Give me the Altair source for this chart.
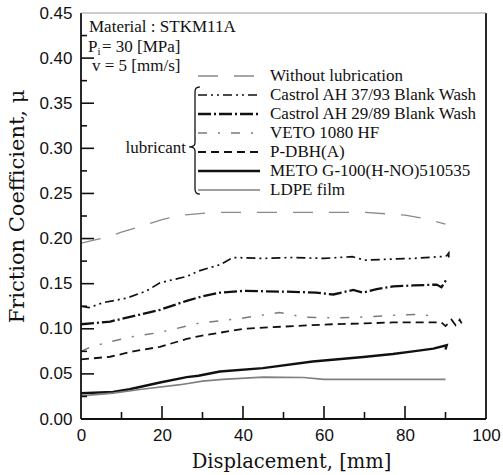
import altair as alt
import pandas as pd

# ---------------- data ----------------
series_names = [
    "Without lubrication",
    "Castrol AH 37/93 Blank Wash",
    "Castrol AH 29/89 Blank Wash",
    "VETO 1080 HF",
    "P-DBH(A)",
    "METO G-100(H-NO)510535",
    "LDPE film",
]

without_x = [0, 5, 10, 15, 20, 25, 30, 35, 40, 50, 60, 70, 80, 85, 90]
without_y = [0.195, 0.200, 0.207, 0.214, 0.221, 0.226, 0.228, 0.229, 0.229, 0.229, 0.229, 0.229, 0.226, 0.222, 0.216]

castrol37_x = [0, 2, 5.5, 11.3, 16.2, 19.5, 26.1, 29, 34.3, 37.6, 45, 52, 60, 67, 70, 75, 82, 89, 90.3, 90.8, 90.8]
castrol37_y = [0.125, 0.1235, 0.129, 0.134, 0.142, 0.151, 0.158, 0.164, 0.171, 0.179, 0.178, 0.179, 0.178, 0.180, 0.176, 0.177, 0.178, 0.180, 0.181, 0.184, 0.176]

castrol29_x = [0, 7.2, 12.9, 19.5, 26.1, 30, 34.3, 40.1, 52.4, 58, 62.3, 67.2, 69.7, 73, 77.1, 82, 87.8, 89, 90.3]
castrol29_y = [0.105, 0.108, 0.114, 0.121, 0.131, 0.136, 0.140, 0.142, 0.141, 0.140, 0.138, 0.143, 0.140, 0.144, 0.147, 0.148, 0.149, 0.146, 0.155]

veto_x = [0, 2.5, 7.5, 12.3, 19.5, 26.1, 29, 40.1, 49, 55, 62, 70, 77, 84, 88]
veto_y = [0.075, 0.080, 0.086, 0.091, 0.096, 0.103, 0.106, 0.112, 0.118, 0.113, 0.112, 0.113, 0.115, 0.116, 0.113]

pdbh_x = [0, 7.2, 12.9, 19.5, 26.1, 29, 40.1, 52.4, 62, 70, 77, 84, 89, 90, 91.5, 92.5, 93.5, 94]
pdbh_y = [0.066, 0.069, 0.075, 0.080, 0.0887, 0.0917, 0.100, 0.103, 0.105, 0.106, 0.107, 0.107, 0.107, 0.103, 0.110, 0.104, 0.110, 0.106]

meto_x = [0, 7.9, 12, 19.5, 26.1, 29, 34.3, 44.9, 57.2, 69.7, 77, 82, 87, 90.3, 90]
meto_y = [0.0286, 0.030, 0.033, 0.0405, 0.0464, 0.048, 0.0527, 0.0564, 0.0638, 0.0687, 0.072, 0.075, 0.078, 0.0817, 0.077]

ldpe_x = [0, 7.9, 15, 24.5, 30, 35, 45, 55, 60, 70, 80, 90]
ldpe_y = [0.0256, 0.0286, 0.033, 0.038, 0.042, 0.044, 0.0464, 0.046, 0.044, 0.044, 0.044, 0.044]

x_tick_labels = [0, 20, 40, 60, 80, 100]
x_minor = [10, 30, 50, 70, 90]
x_major_inner = [20, 40, 60, 80]
y_tick_labels = [0.0, 0.05, 0.10, 0.15, 0.20, 0.25, 0.30, 0.35, 0.40, 0.45]
y_minor = [0.025, 0.075, 0.125, 0.175, 0.225, 0.275, 0.325, 0.375, 0.425]

all_x = [without_x, castrol37_x, castrol29_x, veto_x, pdbh_x, meto_x, ldpe_x]
all_y = [without_y, castrol37_y, castrol29_y, veto_y, pdbh_y, meto_y, ldpe_y]

rows = []
for name, xs, ys in zip(series_names, all_x, all_y):
    for i, (xv, yv) in enumerate(zip(xs, ys)):
        rows.append({"series": name, "x": xv, "y": yv, "order": i})
df = pd.DataFrame(rows)

# ---------------- styling ----------------
W, H = 405, 406
LEFT, TOP = 81, 13
SERIF = "Liberation Serif"
TITLE_FONT = "DejaVu Serif"
SANS = "Liberation Sans"
TXT = 17

styles = [
    dict(color="#8a8a8a", strokeWidth=1.3, strokeDash=[20, 16]),
    dict(color="#111111", strokeWidth=1.7, strokeDash=[9, 4, 2, 4, 2, 4]),
    dict(color="#111111", strokeWidth=2.3, strokeDash=[13, 3, 2, 3]),
    dict(color="#7a7a7a", strokeWidth=1.5, strokeDash=[9, 11, 2, 11]),
    dict(color="#111111", strokeWidth=1.8, strokeDash=[8, 5]),
    dict(color="#111111", strokeWidth=2.4),
    dict(color="#808080", strokeWidth=1.7),
]

xscale = alt.Scale(domain=[0, 100], nice=False, zero=False)
yscale = alt.Scale(domain=[0, 0.45], nice=False, zero=False)

x_axis = alt.Axis(
    values=x_tick_labels, tickSize=0, domain=False, grid=False,
    labelFont=SANS, labelFontSize=17, labelColor="#111", labelPadding=8,
    labelFlush=False, labelOverlap=False,
    title="Displacement, [mm]", titleFont=TITLE_FONT, titleFontSize=19.5,
    titleFontWeight="normal", titleColor="#111",
    titleX=210, titleY=48, titleBaseline="alphabetic", titleAlign="center",
)
y_axis = alt.Axis(
    values=y_tick_labels, format=".2f", tickSize=0, domain=False, grid=False,
    labelFont=SANS, labelFontSize=17, labelColor="#111", labelPadding=9,
    labelFlush=False, labelOverlap=False,
    title="Friction Coefficient, \u03bc", titleFont=TITLE_FONT, titleFontSize=21,
    titleFontWeight="normal", titleColor="#111",
    titleX=-58, titleY=193, titleAngle=270, titleBaseline="alphabetic", titleAlign="center",
)

layers = []
for k, name in enumerate(series_names):
    layers.append(
        alt.Chart(df[df.series == name]).mark_line(strokeCap="butt", **styles[k]).encode(
            x=alt.X("x:Q", scale=xscale, axis=x_axis),
            y=alt.Y("y:Q", scale=yscale, axis=y_axis),
            order="order:Q",
        )
    )

# inward ticks
def ticks_x(vals, length):
    return alt.Chart(pd.DataFrame({"x": vals})).mark_rule(color="#111", strokeWidth=1.6).encode(
        x=alt.X("x:Q", scale=xscale, axis=x_axis), y=alt.value(H), y2=alt.value(H - length))

def ticks_y(vals, length):
    return alt.Chart(pd.DataFrame({"y": vals})).mark_rule(color="#111", strokeWidth=1.6).encode(
        y=alt.Y("y:Q", scale=yscale, axis=y_axis), x=alt.value(0), x2=alt.value(length))

layers += [ticks_x(x_major_inner, 13), ticks_x(x_minor, 7),
           ticks_y(y_tick_labels[1:-1], 13), ticks_y(y_minor, 6)]

one = pd.DataFrame({"a": [0]})

# frame
layers.append(alt.Chart(one).mark_rule(color="#111", strokeWidth=1.8).encode(x=alt.value(0), y=alt.value(0), y2=alt.value(H)))
layers.append(alt.Chart(one).mark_rule(color="#111", strokeWidth=1.8).encode(x=alt.value(W), y=alt.value(0), y2=alt.value(H)))
layers.append(alt.Chart(one).mark_rule(color="#111", strokeWidth=1.8).encode(x=alt.value(0), x2=alt.value(W), y=alt.value(H)))
layers.append(alt.Chart(one).mark_rule(color="#9a9a9a", strokeWidth=1.2).encode(x=alt.value(0), x2=alt.value(W), y=alt.value(0)))

# condition notes
notes = [("Material : STKM11A", 89, 32), ("v = 5 [mm/s]", 92, 71)]
for txt, px, py in notes:
    layers.append(alt.Chart(one).mark_text(align="left", baseline="alphabetic", font=SERIF, fontSize=TXT, color="#111").encode(
        x=alt.value(px - LEFT), y=alt.value(py - TOP), text=alt.value(txt)))
layers.append(alt.Chart(one).mark_text(align="left", baseline="alphabetic", font=SERIF, fontSize=TXT, color="#111").encode(
    x=alt.value(88 - LEFT), y=alt.value(51.5 - TOP), text=alt.value("P")))
layers.append(alt.Chart(one).mark_text(align="left", baseline="alphabetic", font=SERIF, fontSize=11, color="#111").encode(
    x=alt.value(97.5 - LEFT), y=alt.value(55 - TOP), text=alt.value("i")))
layers.append(alt.Chart(one).mark_text(align="left", baseline="alphabetic", font=SERIF, fontSize=TXT, color="#111").encode(
    x=alt.value(102 - LEFT), y=alt.value(51.5 - TOP), text=alt.value("= 30 [MPa]")))

# legend
for k, name in enumerate(series_names):
    cy = 75 + 19 * k
    layers.append(alt.Chart(one).mark_rule(strokeCap="butt", **styles[k]).encode(
        x=alt.value(198 - LEFT), x2=alt.value(260 - LEFT), y=alt.value(cy + 1 - TOP)))
    layers.append(alt.Chart(one).mark_text(align="left", baseline="alphabetic", font=SERIF, fontSize=TXT, color="#111").encode(
        x=alt.value(270 - LEFT), y=alt.value(cy + 5.5 - TOP), text=alt.value(name)))

layers.append(alt.Chart(one).mark_text(align="right", baseline="alphabetic", font=SERIF, fontSize=TXT, color="#111").encode(
    x=alt.value(186 - LEFT), y=alt.value(147 + 5.5 - TOP), text=alt.value("lubricant")))

brace = ("M0.09,-1 C0.02,-1 0,-0.97 0,-0.9 L0,0.04 C0,0.09 -0.03,0.12 -0.11,0.12 "
         "C-0.03,0.12 0,0.15 0,0.2 L0,0.9 C0,0.97 0.02,1 0.09,1")
layers.append(alt.Chart(one).mark_point(shape=brace, filled=False, color="#111", strokeWidth=1.3, size=107 * 107, opacity=1).encode(
    x=alt.value(195 - LEFT), y=alt.value(140.5 - TOP)))

chart = alt.layer(*layers).properties(
    width=W, height=H,
    autosize=alt.AutoSizeParams(type="none"),
    padding={"left": LEFT, "top": TOP, "right": 503 - LEFT - W, "bottom": 475 - TOP - H},
    background="white",
).configure_view(stroke=None)

chart.save("out.html", embed_options={"renderer": "svg", "actions": False})
